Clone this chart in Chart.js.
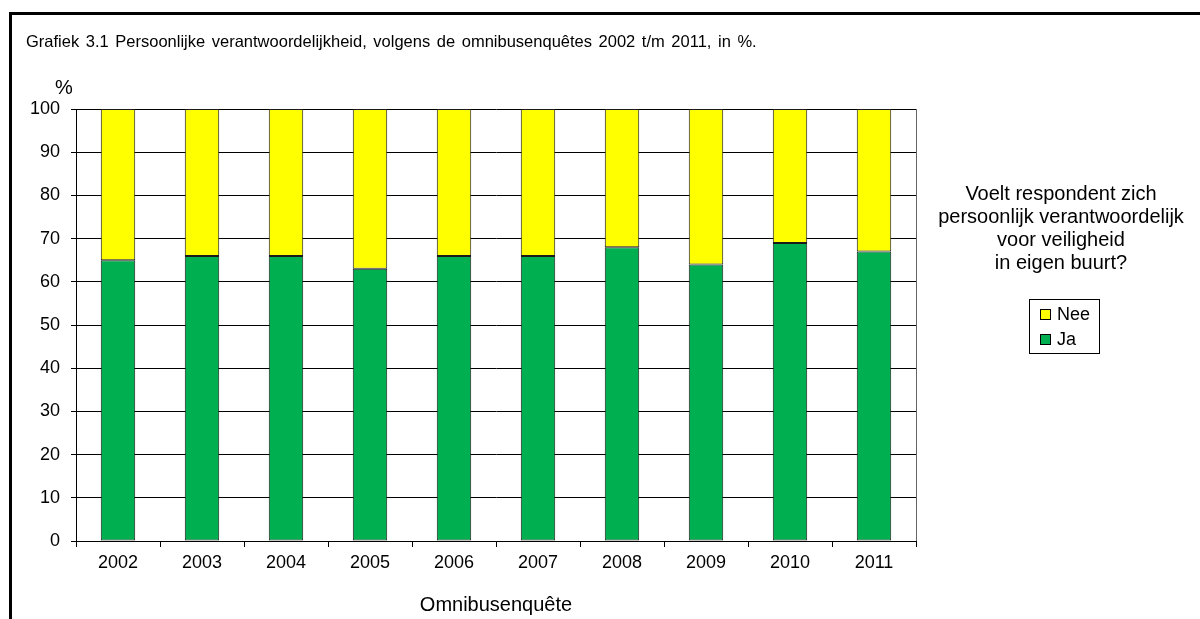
<!DOCTYPE html>
<html>
<head>
<meta charset="utf-8">
<title>Grafiek 3.1</title>
<script src="https://cdn.jsdelivr.net/npm/chart.js@4.4.1/dist/chart.umd.min.js"></script>
<style>
  body { margin: 0; background: #fff; }
  canvas { display: block; }
</style>
</head>
<body>
<canvas id="chart" width="1200" height="619"></canvas>
<script>
// data
const years = ['2002', '2003', '2004', '2005', '2006', '2007', '2008', '2009', '2010', '2011'];
const ja  = [65, 66, 66, 63, 66, 66, 68, 64, 69, 67];
const nee = [35, 34, 34, 37, 34, 34, 32, 36, 31, 33];
const yTicks = [0, 10, 20, 30, 40, 50, 60, 70, 80, 90, 100];

const titleText = 'Grafiek 3.1 Persoonlijke verantwoordelijkheid, volgens de omnibusenquêtes 2002 t/m 2011, in %.';
const legendTitle = ['Voelt respondent zich', 'persoonlijk verantwoordelijk', 'voor veiligheid', 'in eigen buurt?'];

const FONT = '"Liberation Sans", Arial, sans-serif';

// frame, title, "%" label, right plot border and the legend block
const extras = {
    id: 'extras',
    afterDraw(chart) {
        const c = chart.ctx;
        const area = chart.chartArea;
        c.save();

        // outer frame (only top + left visible in the picture)
        c.fillStyle = '#000';
        c.fillRect(9, 12, 3, 620);
        c.fillRect(9, 12, 1200, 3);

        c.fillStyle = '#000';
        c.font = '16.5px ' + FONT;
        c.wordSpacing = '2px';
        c.textAlign = 'left';
        c.textBaseline = 'alphabetic';
        c.fillText(titleText, 26, 47);
        c.wordSpacing = '0px';

        c.font = '20px ' + FONT;
        c.textAlign = 'center';
        c.fillText('%', 64, 94);

        // right edge of plot area
        c.strokeStyle = '#666';
        c.lineWidth = 1;
        c.beginPath();
        c.moveTo(Math.round(area.right) + 0.5, area.top);
        c.lineTo(Math.round(area.right) + 0.5, area.bottom);
        c.stroke();

        // legend heading
        c.fillStyle = '#000';
        c.font = '20px ' + FONT;
        legendTitle.forEach((line, i) => {
            c.fillText(line, 1061, 200 + i * 23);
        });

        // legend box
        c.strokeStyle = '#000';
        c.strokeRect(1029.5, 299.5, 70, 54);
        const items = chart.data.datasets.slice().reverse();
        c.font = '18px ' + FONT;
        c.textAlign = 'left';
        items.forEach((ds, i) => {
            const y = 309 + i * 25;
            c.fillStyle = ds.backgroundColor;
            c.fillRect(1040, y, 10, 10);
            c.strokeStyle = '#000';
            c.strokeRect(1040.5, y + 0.5, 10, 10);
            c.fillStyle = '#000';
            c.fillText(ds.label, 1057, y + 11);
        });

        c.restore();
    }
};

new Chart(document.getElementById('chart'), {
    type: 'bar',
    data: {
        labels: years,
        datasets: [
            {
                label: 'Ja',
                data: ja,
                backgroundColor: '#00B050',
                borderColor: '#1a1a1a',
                borderWidth: 1,
                borderSkipped: false,
                categoryPercentage: 1,
                barPercentage: 0.41
            },
            {
                label: 'Nee',
                data: nee,
                backgroundColor: '#FFFF00',
                borderColor: '#1a1a1a',
                borderWidth: 1,
                borderSkipped: false,
                categoryPercentage: 1,
                barPercentage: 0.41
            }
        ]
    },
    options: {
        responsive: false,
        animation: false,
        devicePixelRatio: 1,
        layout: { padding: { top: 109, right: 284, left: 0, bottom: 0 } },
        plugins: {
            legend: { display: false },
            title: { display: false },
            tooltip: { enabled: false }
        },
        scales: {
            x: {
                stacked: true,
                afterFit: scale => { scale.height = 78; },
                grid: {
                    offset: true,
                    drawOnChartArea: false,
                    color: '#000',
                    tickLength: 6
                },
                border: { color: '#000', width: 1 },
                ticks: {
                    color: '#000',
                    padding: 5,
                    font: { family: FONT, size: 18 }
                },
                title: {
                    display: true,
                    text: 'Omnibusenquête',
                    color: '#000',
                    font: { family: FONT, size: 20 },
                    padding: { top: 0, bottom: 2 }
                }
            },
            y: {
                stacked: true,
                min: 0,
                max: 100,
                afterFit: scale => { scale.width = 76; },
                afterBuildTicks: scale => {
                    scale.ticks = yTicks.map(v => ({ value: v }));
                },
                grid: {
                    color: '#000',
                    tickLength: 5
                },
                border: { color: '#000', width: 1 },
                ticks: {
                    color: '#000',
                    padding: 11,
                    font: { family: FONT, size: 18 }
                }
            }
        }
    },
    plugins: [extras]
});
</script>
</body>
</html>
